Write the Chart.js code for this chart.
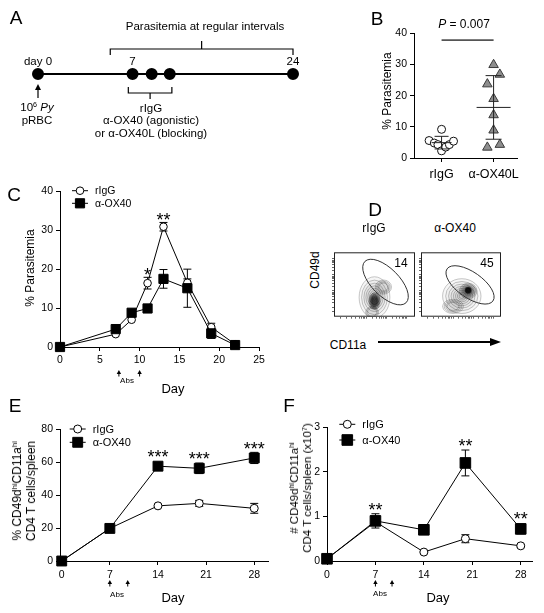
<!DOCTYPE html>
<html>
<head>
<meta charset="utf-8">
<script src="https://cdn.jsdelivr.net/npm/chart.js@4.4.1/dist/chart.umd.min.js"></script>
<style>
    body { margin: 0; background: #fff; }
    #fig { position: relative; width: 544px; height: 613px; overflow: hidden;
           font-family: 'Liberation Sans', Arial, Helvetica, sans-serif; color: #000; }
    #fig canvas { position: absolute; }
    .t { position: absolute; white-space: nowrap; line-height: 1; transform: translate(-50%, -50%); }
    .rot { transform: translate(-50%, -50%) rotate(-90deg); text-align: center; }
    sup { font-size: 0.62em; vertical-align: 0.55em; line-height: 0; }
    .arrowline { position: absolute; background: #000; }
    .arrowhead { position: absolute; width: 0; height: 0; border-top: 4px solid transparent;
                 border-bottom: 4px solid transparent; border-left: 11px solid #000; }
</style>
</head>
<body>
<div id="fig"></div>
<script>
// ---- A: timeline ----
const tlLabels = ['day 0', '7', '', '', '24'];
const tlPos = [0, 8.9, 10.7, 12.4, 24];   // schematic positions, not to scale
const tlUpper = [6.8, 24];                // "parasitemia" bracket
const tlLower = [8.5, 12.6];              // antibody bracket

// ---- B: parasitemia with blocking antibody ----
const bGroups = ['rIgG', 'α-OX40L'];
const bTicksY = [0, 10, 20, 30, 40];
const bRigg = [9.2, 5.6, 4.8, 4.3, 2.3, 3.5, 4.3, 5.4];
const bRiggJit = [0, -0.24, -0.14, -0.07, 0, 0.08, 0.15, 0.23];
const bOx40l = [29.9, 26.8, 23.7, 19.0, 13.8, 8.9, 3.4, 4.3];
const bOx40lJit = [0, 0.12, -0.12, 0, 0, 0, -0.12, 0.12];
const bPline = 37.8;

// ---- C: parasitemia time course ----
const cTicksX = [0, 5, 10, 15, 20, 25];
const cTicksY = [0, 10, 20, 30, 40];
const cDays = [0, 7, 9, 11, 13, 16, 19, 22];
const cRigg = [0, 3.3, 7.0, 16.4, 30.9, 16.5, 5.1, 0.7];
const cRiggErr = [0, 0, 0, 1.5, 1.1, 1.0, 1.0, 0];
const cOx40 = [0, 4.6, 8.8, 9.9, 17.5, 15.1, 3.5, 0.5];
const cOx40Err = [0, 0.4, 0.5, 1.0, 2.4, 4.9, 1.3, 0.3];
const cSigDays = [11, 13];
const cSigMarks = ['*', '**'];
const cAbsDays = [7.4, 10];

// ---- D: flow plots ----
const dPct = [14, 45];
const flowLevels = [1, 0.84, 0.69, 0.56, 0.44, 0.33, 0.23, 0.14];
const flowTicks = [8, 15, 22, 27, 31, 34, 36, 38, 40, 47, 52, 56, 59, 61, 63, 65, 72, 77, 81, 84, 86, 88, 90];
const dRiggBlobs = [
    { cx: 50, cy: 30, rx: 19, ry: 32, n: 8, a: 0.035 },
    { cx: 61, cy: 46, rx: 10, ry: 11, n: 4, a: 0.03 },
    { cx: 47, cy: 7, rx: 8, ry: 9, n: 3, a: 0.03 },
    { cx: 50, cy: 24, rx: 7, ry: 13, n: 5, a: 0.22 },
];
const dOx40Blobs = [
    { cx: 51, cy: 32, rx: 24, ry: 27, n: 8, a: 0.03 },
    { cx: 40, cy: 16, rx: 13, ry: 11, n: 4, a: 0.03 },
    { cx: 59, cy: 40, rx: 11, ry: 12, n: 6, a: 0.1 },
    { cx: 59, cy: 41, rx: 4, ry: 5, n: 3, a: 0.5 },
];
const dRiggGate = { cx: 63.6, cy: 53.8, a: 36, b: 17, rot: 45 };
const dOx40Gate = { cx: 61.3, cy: 49.4, a: 35, b: 16, rot: 35 };

// ---- E: % CD49d hi CD11a hi ----
const eTicksX = [0, 7, 14, 21, 28];
const eTicksY = [0, 20, 40, 60, 80];
const eDays = [0, 7, 14, 20, 28];
const eRigg = [0, 19.8, 33.5, 35.0, 32.0];
const eRiggErr = [0, 0.8, 1.0, 1.8, 3.0];
const eOx40 = [0, 19.8, 57.6, 56.3, 62.6];
const eOx40Err = [0, 0.8, 1.0, 3.2, 3.4];
const eSigDays = [14, 20, 28];
const eSigMarks = ['***', '***', '***'];
const eAbsDays = [7, 9.6];

// ---- F: # CD49d hi CD11a hi ----
const fTicksX = [0, 7, 14, 21, 28];
const fTicksY = [0, 1, 2, 3];
const fDays = [0, 7, 14, 20, 28];
const fRigg = [0.05, 0.88, 0.2, 0.5, 0.34];
const fRiggErr = [0, 0, 0.02, 0.09, 0.03];
const fOx40 = [0.05, 0.9, 0.7, 2.2, 0.72];
const fOx40Err = [0, 0.16, 0.03, 0.29, 0.11];
const fSigDays = [7, 20, 28];
const fSigMarks = ['**', '**', '**'];
const fAbsDays = [7, 9.4];

const FONT = "'Liberation Sans', Arial, Helvetica, sans-serif";
Chart.defaults.font.family = FONT;
Chart.defaults.font.size = 10.5;
Chart.defaults.color = '#000';
Chart.defaults.animation = false;
Chart.defaults.plugins.legend.display = false;
Chart.defaults.plugins.tooltip.enabled = false;

const fig = document.getElementById('fig');

let makeCanvas = (left, top, w, h) => {
    const c = document.createElement('canvas');
    c.width = w; c.height = h;
    c.style.left = left + 'px'; c.style.top = top + 'px';
    c.style.width = w + 'px'; c.style.height = h + 'px';
    fig.appendChild(c);
    return c;
};

let text = (html, x, y, size, cls) => {
    const d = document.createElement('div');
    d.className = 't' + (cls ? ' ' + cls : '');
    d.innerHTML = html;
    d.style.left = x + 'px';
    d.style.top = y + 'px';
    d.style.fontSize = size + 'px';
    fig.appendChild(d);
    return d;
};

let pts = (xs, ys) => xs.map((v, i) => ({ x: v, y: ys[i] }));
let mean = (a) => a.reduce((s, v) => s + v, 0) / a.length;
let sd = (a) => { const m = mean(a); return Math.sqrt(a.reduce((s, v) => s + (v - m) ** 2, 0) / (a.length - 1)); };

// Axis with fixed ticks and a fixed box size so chart areas line up with the figure
let axis = (min, max, ticks, fit, extra = {}) => ({
    type: 'linear', min, max,
    afterBuildTicks: (s) => { s.ticks = ticks.map(v => ({ value: v })); },
    afterFit: (s) => { if (s.isHorizontal()) s.height = fit; else s.width = fit; },
    grid: { drawOnChartArea: false, tickLength: extra.tickLength || 4, tickColor: extra.tickColor || '#000', tickWidth: 1 },
    border: { display: extra.border !== false, color: '#000', width: 1 },
    ticks: {
        color: '#000', autoSkip: false, maxRotation: 0, padding: extra.padding || 3,
        font: { size: extra.size || 10.5 },
        callback: extra.cb || ((v) => v),
    },
});

let drawMarker = (ctx, style, x, y, r, fill) => {
    ctx.save();
    ctx.fillStyle = fill; ctx.strokeStyle = '#000'; ctx.lineWidth = 1;
    ctx.beginPath();
    if (style === 'rect') {
        const h = r * Math.SQRT1_2;
        ctx.rect(x - h, y - h, 2 * h, 2 * h);
    } else {
        ctx.arc(x, y, r, 0, Math.PI * 2);
    }
    ctx.fill(); ctx.stroke();
    ctx.restore();
};

// ---- plugins ----
let errBars = (cap) => ({
    id: 'errBars',
    beforeDatasetsDraw(chart) {
        const { ctx, scales: { x, y } } = chart;
        ctx.save();
        ctx.strokeStyle = '#000'; ctx.lineWidth = 1;
        chart.data.datasets.forEach(ds => {
            if (!ds.err) return;
            ds.data.forEach((p, i) => {
                const e = ds.err[i];
                if (!e) return;
                const px = x.getPixelForValue(p.x);
                const top = y.getPixelForValue(p.y + e), bot = y.getPixelForValue(p.y - e);
                ctx.beginPath();
                ctx.moveTo(px, top); ctx.lineTo(px, bot);
                ctx.moveTo(px - cap, top); ctx.lineTo(px + cap, top);
                ctx.moveTo(px - cap, bot); ctx.lineTo(px + cap, bot);
                ctx.stroke();
            });
        });
        ctx.restore();
    }
});

let sigStars = (days, marks, gap) => ({
    id: 'sigStars',
    afterDatasetsDraw(chart) {
        const { ctx, scales: { x, y } } = chart;
        ctx.save();
        ctx.fillStyle = '#000';
        ctx.font = '18px ' + FONT;
        ctx.textAlign = 'center';
        ctx.textBaseline = 'alphabetic';
        days.forEach((d, k) => {
            let top = Infinity;
            chart.data.datasets.forEach(ds => {
                const i = ds.data.findIndex(p => p.x === d);
                if (i < 0) return;
                const p = ds.data[i], e = ds.err ? ds.err[i] : 0;
                top = Math.min(top, y.getPixelForValue(p.y + e), y.getPixelForValue(p.y) - ds.pointRadius * 0.8);
            });
            // asterisk glyph centre sits ~0.57em above the baseline
            ctx.fillText(marks[k], x.getPixelForValue(d), top - gap + 10.3);
        });
        ctx.restore();
    }
});

let absArrows = (days, dy) => ({
    id: 'absArrows',
    afterDraw(chart) {
        const { ctx, chartArea, scales: { x } } = chart;
        ctx.save();
        ctx.fillStyle = '#000'; ctx.strokeStyle = '#000'; ctx.lineWidth = 1;
        days.forEach(d => {
            const px = x.getPixelForValue(d), py = chartArea.bottom + dy;
            ctx.beginPath();
            ctx.moveTo(px, py - 3); ctx.lineTo(px - 2.2, py + 1); ctx.lineTo(px + 2.2, py + 1);
            ctx.closePath(); ctx.fill();
            ctx.beginPath(); ctx.moveTo(px, py + 1); ctx.lineTo(px, py + 3.5); ctx.stroke();
        });
        ctx.restore();
    }
});

let miniLegend = (lx, ly, dy, size, items) => ({
    id: 'miniLegend',
    afterDraw(chart) {
        const ctx = chart.ctx;
        ctx.save();
        items.forEach((it, i) => {
            const y = ly + i * dy;
            ctx.strokeStyle = '#000'; ctx.lineWidth = 1;
            ctx.beginPath(); ctx.moveTo(lx - 8, y); ctx.lineTo(lx + 8, y); ctx.stroke();
            drawMarker(ctx, it.style, lx, y, it.r, it.fill);
            ctx.fillStyle = '#000';
            ctx.font = size + 'px ' + FONT;
            ctx.textBaseline = 'middle';
            ctx.fillText(it.label, lx + 15, y + 0.5);
        });
        ctx.restore();
    }
});

// Time-course chart used by C, E and F
let timeCourse = (canvas, cfg) => new Chart(canvas, {
    type: 'line',
    data: {
        datasets: [{
            label: 'rIgG',
            data: pts(cfg.days, cfg.rigg),
            err: cfg.riggErr,
            order: 1,
            borderColor: '#000', borderWidth: 1, tension: 0, clip: false,
            pointStyle: 'circle', pointRadius: cfg.rc,
            pointBackgroundColor: '#fff', pointBorderColor: '#000', pointBorderWidth: 1,
        }, {
            label: 'α-OX40',
            data: pts(cfg.days, cfg.ox),
            err: cfg.oxErr,
            order: 0,
            borderColor: '#000', borderWidth: 1, tension: 0, clip: false,
            pointStyle: 'rect', pointRadius: cfg.rs,
            pointBackgroundColor: '#000', pointBorderColor: '#000', pointBorderWidth: 1,
        }]
    },
    options: {
        responsive: false,
        layout: { padding: { left: 0, top: 5, right: cfg.padRight, bottom: 0 } },
        scales: {
            x: axis(cfg.xMin, cfg.xMax, cfg.ticksX, cfg.xFit, { padding: cfg.xPad }),
            y: axis(cfg.ticksY[0], cfg.ticksY[cfg.ticksY.length - 1], cfg.ticksY, 40),
        },
    },
    plugins: [
        errBars(4),
        sigStars(cfg.sigDays, cfg.sigMarks, cfg.gap),
        absArrows(cfg.absDays, cfg.absDy),
        miniLegend(cfg.legX, cfg.legY, cfg.legDy, cfg.legSize, [
            { label: 'rIgG', style: 'circle', r: cfg.rc, fill: '#fff' },
            { label: 'α-OX40', style: 'rect', r: cfg.rs, fill: '#000' },
        ]),
    ],
});

// ---------------- A ----------------
const timelinePlugin = {
    id: 'timeline',
    afterDatasetsDraw(chart) {
        const { ctx, scales: { x, y } } = chart;
        const y0 = y.getPixelForValue(0);
        ctx.save();
        ctx.strokeStyle = '#000'; ctx.fillStyle = '#000'; ctx.lineWidth = 1.2;
        // bracket over the sampling period
        let a = x.getPixelForValue(tlUpper[0]), b = x.getPixelForValue(tlUpper[1]), yb = y0 - 25;
        ctx.beginPath();
        ctx.moveTo(a, yb + 6); ctx.lineTo(a, yb); ctx.lineTo(b, yb); ctx.lineTo(b, yb + 6);
        ctx.moveTo((a + b) / 2, yb); ctx.lineTo((a + b) / 2, yb - 8);
        ctx.stroke();
        // bracket under the antibody injections
        a = x.getPixelForValue(tlLower[0]); b = x.getPixelForValue(tlLower[1]); yb = y0 + 19;
        ctx.beginPath();
        ctx.moveTo(a, yb - 6); ctx.lineTo(a, yb); ctx.lineTo(b, yb); ctx.lineTo(b, yb - 6);
        ctx.moveTo((a + b) / 2, yb); ctx.lineTo((a + b) / 2, yb + 6);
        ctx.stroke();
        // infection arrow
        const ax = x.getPixelForValue(0);
        ctx.beginPath(); ctx.moveTo(ax, y0 + 24); ctx.lineTo(ax, y0 + 14); ctx.stroke();
        ctx.beginPath(); ctx.moveTo(ax, y0 + 10); ctx.lineTo(ax - 3, y0 + 16); ctx.lineTo(ax + 3, y0 + 16);
        ctx.closePath(); ctx.fill();
        // day labels
        ctx.font = '11.5px ' + FONT;
        ctx.textAlign = 'center'; ctx.textBaseline = 'middle';
        tlLabels.forEach((l, i) => ctx.fillText(l, x.getPixelForValue(tlPos[i]), y0 - 12));
        ctx.restore();
    }
};

new Chart(makeCanvas(0, 0, 320, 150), {
    type: 'line',
    data: {
        datasets: [{
            data: pts(tlPos, tlPos.map(() => 0)),
            borderColor: '#000', borderWidth: 2, clip: false,
            pointRadius: 5, pointBackgroundColor: '#000', pointBorderColor: '#000',
        }]
    },
    options: {
        responsive: false,
        layout: { padding: { left: 38, right: 27, top: 64, bottom: 66 } },
        scales: {
            x: { type: 'linear', min: 0, max: 24, display: false },
            y: { type: 'linear', min: -1, max: 1, display: false },
        },
    },
    plugins: [timelinePlugin],
});

text('A', 16, 17, 19);
text('Parasitemia at regular intervals', 205, 27, 11.5);
text('10<sup>6</sup> <i>Py</i>', 37, 108, 11.5);
text('pRBC', 37, 121, 11.5);
text('rIgG', 151, 109, 11.5);
text('α-OX40 (agonistic)', 151, 121, 11.5);
text('or α-OX40L (blocking)', 151, 134, 11.5);

// ---------------- B ----------------
const bStats = [
    { x: 0, mean: mean(bRigg), sd: sd(bRigg), mw: 10, cw: 7 },
    { x: 1, mean: mean(bOx40l), sd: sd(bOx40l), mw: 17, cw: 8 },
];

const meanSdPlugin = {
    id: 'meanSd',
    afterDatasetsDraw(chart) {
        const { ctx, scales: { x, y } } = chart;
        ctx.save();
        ctx.strokeStyle = '#222'; ctx.lineWidth = 1;
        bStats.forEach(g => {
            const cx = x.getPixelForValue(g.x);
            const pm = y.getPixelForValue(g.mean);
            const pt = y.getPixelForValue(g.mean + g.sd), pb = y.getPixelForValue(g.mean - g.sd);
            ctx.beginPath();
            ctx.moveTo(cx - g.mw, pm); ctx.lineTo(cx + g.mw, pm);
            ctx.moveTo(cx, pt); ctx.lineTo(cx, pb);
            ctx.moveTo(cx - g.cw, pt); ctx.lineTo(cx + g.cw, pt);
            ctx.moveTo(cx - g.cw, pb); ctx.lineTo(cx + g.cw, pb);
            ctx.stroke();
        });
        // significance line
        ctx.strokeStyle = '#555'; ctx.lineWidth = 1.6;
        ctx.beginPath();
        ctx.moveTo(x.getPixelForValue(0), y.getPixelForValue(bPline));
        ctx.lineTo(x.getPixelForValue(1), y.getPixelForValue(bPline));
        ctx.stroke();
        ctx.restore();
    }
};

new Chart(makeCanvas(374, 24, 153, 159), {
    type: 'scatter',
    data: {
        datasets: [{
            label: bGroups[0],
            data: pts(bRiggJit, bRigg),
            pointStyle: 'circle', pointRadius: 4,
            pointBackgroundColor: '#fff', pointBorderColor: '#111', pointBorderWidth: 1, clip: false,
        }, {
            label: bGroups[1],
            data: pts(bOx40lJit.map(v => v + 1), bOx40l),
            pointStyle: 'triangle', pointRadius: 5.5,
            pointBackgroundColor: '#8e8e8e', pointBorderColor: '#3a3a3a', pointBorderWidth: 1, clip: false,
        }]
    },
    options: {
        responsive: false,
        layout: { padding: { left: 0, top: 5, right: 10, bottom: 0 } },
        scales: {
            x: axis(-0.53, 1.45, [0, 1], 25, { size: 12.5, padding: 5, cb: (v) => bGroups[v] }),
            y: axis(0, 40, bTicksY, 40),
        },
    },
    plugins: [meanSdPlugin],
});

text('B', 377, 18, 19);
text('<i>P</i> = 0.007', 464, 24, 12);
text('% Parasitemia', 387, 91, 12, 'rot');

// ---------------- C ----------------
timeCourse(makeCanvas(20, 182, 250, 210), {
    days: cDays, rigg: cRigg, riggErr: cRiggErr, ox: cOx40, oxErr: cOx40Err,
    ticksX: cTicksX, ticksY: cTicksY, xMin: 0, xMax: 25, xFit: 45, xPad: 3, padRight: 11,
    rc: 3.8, rs: 6.5, gap: 7,
    sigDays: cSigDays, sigMarks: cSigMarks, absDays: cAbsDays, absDy: 26,
    legX: 60, legY: 8.7, legDy: 12.6, legSize: 10.5,
});

text('C', 14, 194, 19);
text('% Parasitemia', 30, 268, 12, 'rot');
text('Day', 173, 388, 13);
text('Abs', 127, 381, 8);

// ---------------- D ----------------
let flowPlot = (blobs, gate, pct) => ({
    id: 'flowPlot',
    beforeDatasetsDraw(chart) {
        const { ctx, chartArea: ca, scales: { x, y } } = chart;
        const sx = ca.width / 100, sy = ca.height / 100;
        ctx.save();
        ctx.beginPath(); ctx.rect(ca.left, ca.top, ca.width, ca.height); ctx.clip();
        // density contours
        blobs.forEach(b => {
            flowLevels.slice(0, b.n).forEach(f => {
                ctx.beginPath();
                ctx.ellipse(x.getPixelForValue(b.cx), y.getPixelForValue(b.cy), b.rx * f * sx, b.ry * f * sy, 0, 0, Math.PI * 2);
                ctx.fillStyle = `rgba(0,0,0,${b.a})`;
                ctx.fill();
                ctx.strokeStyle = 'rgba(0,0,0,0.45)'; ctx.lineWidth = 0.5;
                ctx.stroke();
            });
        });
        // gate
        ctx.beginPath();
        ctx.ellipse(x.getPixelForValue(gate.cx), y.getPixelForValue(gate.cy), gate.a * sx, gate.b * sx,
            gate.rot * Math.PI / 180, 0, Math.PI * 2);
        ctx.strokeStyle = '#333'; ctx.lineWidth = 1;
        ctx.stroke();
        ctx.restore();
        // frame and gate percentage
        ctx.save();
        ctx.strokeStyle = '#222'; ctx.lineWidth = 1;
        ctx.strokeRect(ca.left + 0.5, ca.top + 0.5, ca.width - 1, ca.height - 1);
        ctx.fillStyle = '#000'; ctx.font = '12px ' + FONT;
        ctx.textAlign = 'center'; ctx.textBaseline = 'middle';
        ctx.fillText(String(pct), ca.right - 14, ca.top + 11.5);
        ctx.restore();
    }
});

let flowChart = (canvas, blobs, gate, pct) => new Chart(canvas, {
    type: 'scatter',
    data: { datasets: [] },
    options: {
        responsive: false,
        layout: { padding: 0 },
        scales: {
            x: axis(0, 100, flowTicks, 4, { border: false, tickLength: 2, tickColor: '#666', cb: () => '' }),
            y: axis(0, 100, flowTicks, 4, { border: false, tickLength: 2, tickColor: '#666', cb: () => '' }),
        },
    },
    plugins: [flowPlot(blobs, gate, pct)],
});

flowChart(makeCanvas(330, 243, 85, 83), dRiggBlobs, dRiggGate, dPct[0]);
flowChart(makeCanvas(417, 243, 84, 83), dOx40Blobs, dOx40Gate, dPct[1]);

text('D', 375, 209, 19);
text('rIgG', 374, 228, 12);
text('α-OX40', 455, 228, 12);
text('CD49d', 315, 270, 12, 'rot');
text('CD11a', 348, 345, 12);
// CD11a axis arrow
let ln = document.createElement('div');
ln.className = 'arrowline';
Object.assign(ln.style, { left: '378px', top: '341px', width: '114px', height: '1.5px' });
fig.appendChild(ln);
let hd = document.createElement('div');
hd.className = 'arrowhead';
Object.assign(hd.style, { left: '490px', top: '337.8px' });
fig.appendChild(hd);

// ---------------- E ----------------
timeCourse(makeCanvas(20, 420, 256, 193), {
    days: eDays, rigg: eRigg, riggErr: eRiggErr, ox: eOx40, oxErr: eOx40Err,
    ticksX: eTicksX, ticksY: eTicksY, xMin: -0.25, xMax: 30, xFit: 52, xPad: 4, padRight: 8,
    rc: 4, rs: 7, gap: 8,
    sigDays: eSigDays, sigMarks: eSigMarks, absDays: eAbsDays, absDy: 22,
    legX: 57.7, legY: 9, legDy: 13.3, legSize: 11,
});

text('E', 15, 405, 19);
text('% CD49d<sup>hi</sup>CD11a<sup>hi</sup><br>CD4 T cells/spleen', 24, 491, 12, 'rot').style.lineHeight = '14px';
text('Day', 173, 597, 13);
text('Abs', 117, 595, 8);

// ---------------- F ----------------
timeCourse(makeCanvas(287, 418, 254, 195), {
    days: fDays, rigg: fRigg, riggErr: fRiggErr, ox: fOx40, oxErr: fOx40Err,
    ticksX: fTicksX, ticksY: fTicksY, xMin: 0, xMax: 29.7, xFit: 52, xPad: 4, padRight: 8,
    rc: 4, rs: 7.5, gap: 8,
    sigDays: fSigDays, sigMarks: fSigMarks, absDays: fAbsDays, absDy: 22,
    legX: 60.3, legY: 6.3, legDy: 15.7, legSize: 11,
});

text('F', 289, 405, 19);
text('# CD49d<sup>hi</sup>CD11a<sup>hi</sup><br>CD4 T cells/spleen (x10<sup>7</sup>)', 301, 488, 11.5, 'rot').style.lineHeight = '13px';
text('Day', 438, 597, 13);
text('Abs', 380, 594, 8);
</script>
</body>
</html>
